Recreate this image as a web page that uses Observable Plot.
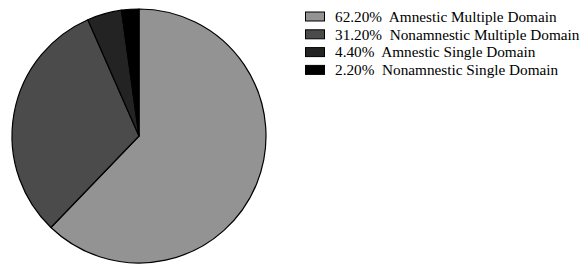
<!DOCTYPE html>
<html><head><meta charset="utf-8">
<script src="https://cdn.jsdelivr.net/npm/d3@7"></script>
<script src="https://cdn.jsdelivr.net/npm/@observablehq/plot@0.6"></script>
<style>body{margin:0;background:#fff}</style>
</head><body><div id="chart"></div>
<script>
const categories = ["Amnestic Multiple Domain","Nonamnestic Multiple Domain","Amnestic Single Domain","Nonamnestic Single Domain"];
const values = [62.2, 31.2, 4.4, 2.2];
const labels = ["62.20%","31.20%","4.40%","2.20%"];
const colors = ["#939393","#4b4b4b","#232323","#000000"];
const data = categories.map((c,i)=>({category:c, value:values[i], label:labels[i], color:colors[i]}));

const W = 586, H = 264;
const pieMark = (index, scales, values_, dims) => {
  const g = d3.create("svg:g");
  const arcs = d3.pie().sort(null).value(d=>d.value)(data);
  const arc = d3.arc().innerRadius(0).outerRadius(127);
  g.append("g").attr("transform","translate(139,136)")
    .selectAll("path").data(arcs).join("path")
    .attr("d", arc).attr("fill", d=>d.data.color)
    .attr("stroke","#000").attr("stroke-width",1.2).attr("stroke-linejoin","round");
  const lg = g.append("g").attr("font-family","'Liberation Serif', 'Times New Roman', serif")
    .attr("font-size",15.25).attr("text-anchor","start").attr("fill","#000");
  data.forEach((d,i)=>{
    const y = 16.5 + i*17.8;
    lg.append("rect").attr("x",305.5).attr("y",y-4.5).attr("width",19).attr("height",9)
      .attr("fill",d.color).attr("stroke","#000").attr("stroke-width",1);
    lg.append("text").attr("x",335).attr("y",y).attr("dy","0.35em").style("white-space","pre")
      .text(d.label + "  " + d.category);
  });
  return g.node();
};
const chart = Plot.plot({
  width: W, height: H, margin: 0,
  x: {axis: null}, y: {axis: null},
  marks: [pieMark]
});
document.getElementById("chart").append(chart);
</script></body></html>
